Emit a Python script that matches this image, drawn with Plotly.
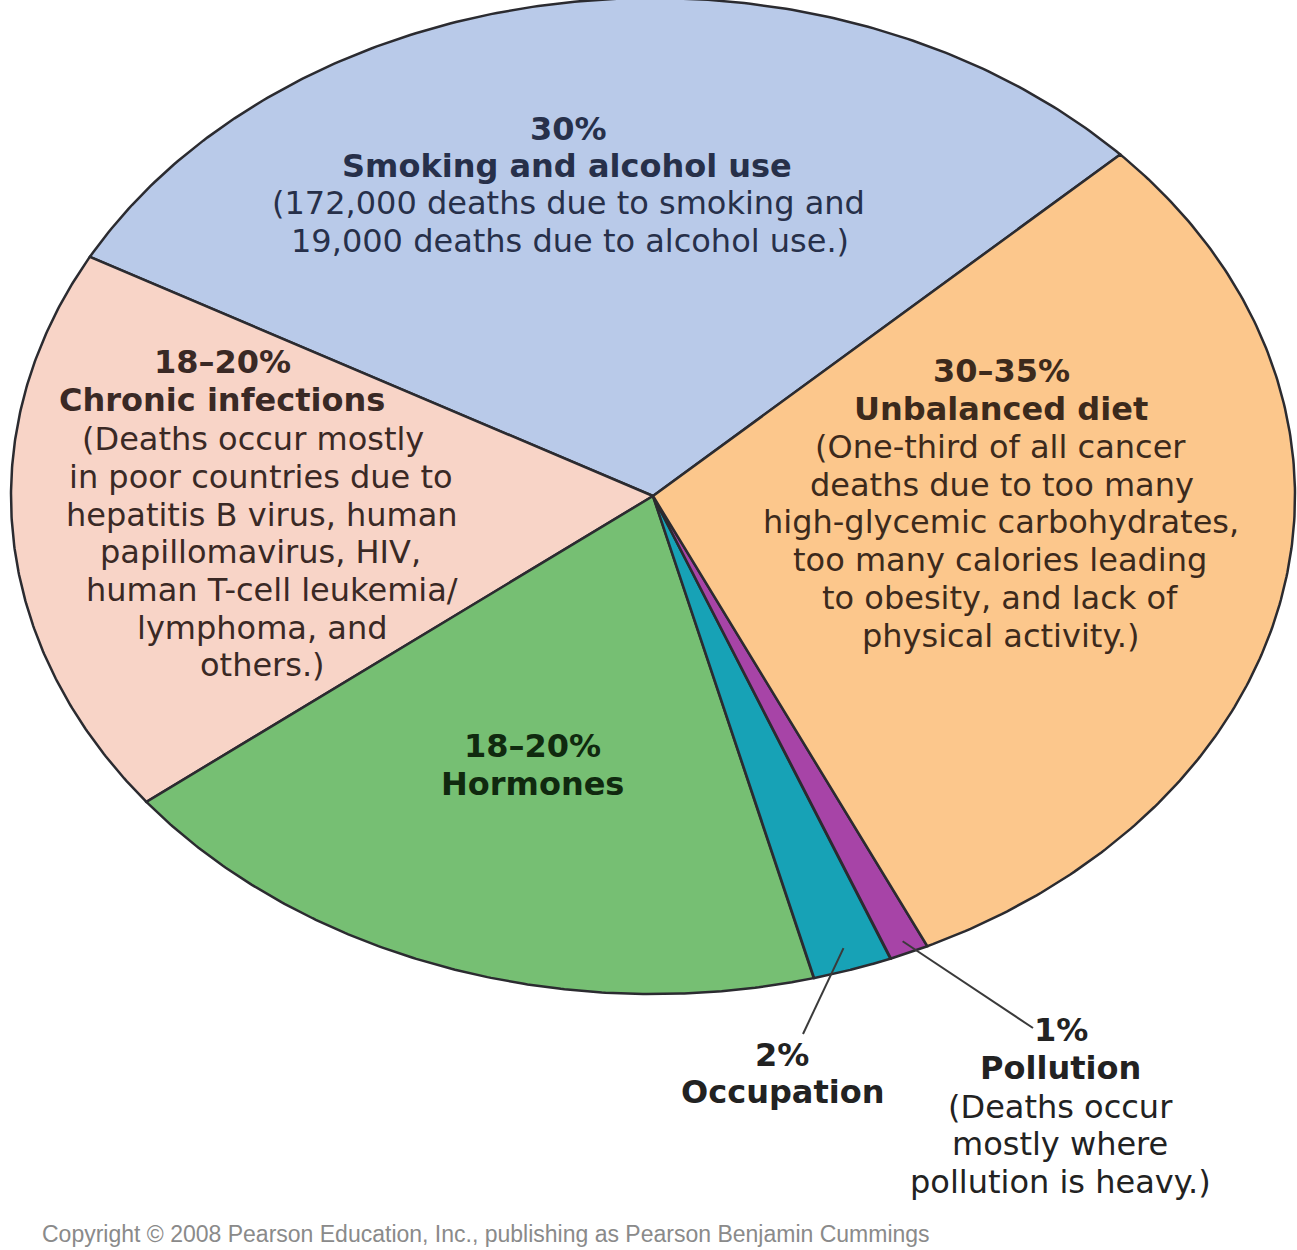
import numpy as np
import plotly.graph_objects as go

# ---------------- data ----------------
categories = ["Smoking and alcohol use", "Chronic infections", "Hormones",
              "Occupation", "Pollution", "Unbalanced diet"]
values = [30, 18.5, 18.5, 2, 1, 30]
colors = ["#b9cae9", "#f8d4c7", "#76bf73", "#17a2b6", "#a744a7", "#fcc78c"]

# label blocks
smoking_lines = ["30%", "Smoking and alcohol use",
                 "(172,000 deaths due to smoking and",
                 "19,000 deaths due to alcohol use.)"]
chronic_lines = ["18–20%", "Chronic infections", "(Deaths occur mostly",
                 "in poor countries due to", "hepatitis B virus, human",
                 "papillomavirus, HIV,", "human T-cell leukemia/",
                 "lymphoma, and", "others.)"]
diet_lines = ["30–35%", "Unbalanced diet", "(One-third of all cancer",
              "deaths due to too many", "high-glycemic carbohydrates,",
              "too many calories leading", "to obesity, and lack of",
              "physical activity.)"]
hormone_lines = ["18–20%", "Hormones"]
occupation_lines = ["2%", "Occupation"]
pollution_lines = ["1%", "Pollution", "(Deaths occur", "mostly where",
                   "pollution is heavy.)"]
copyright_text = "Copyright © 2008 Pearson Education, Inc., publishing as Pearson Benjamin Cummings"

# ---------------- geometry (layout) ----------------
W, H = 1297, 1250
cx, cy = 653, 496
ax_, by_ = 642, 498
start_deg = 43.3

fig = go.Figure()

total = float(sum(values))
cum = np.concatenate([[0], np.cumsum(values)])
mids = []
for i, (cat, v) in enumerate(zip(categories, values)):
    t0 = np.deg2rad(start_deg + 360 * cum[i] / total)
    t1 = np.deg2rad(start_deg + 360 * cum[i + 1] / total)
    mids.append((t0 + t1) / 2)
    t = np.linspace(t0, t1, 200)
    xs = np.concatenate([[cx], cx + ax_ * np.cos(t), [cx]])
    ys = np.concatenate([[cy], cy - by_ * np.sin(t), [cy]])
    fig.add_trace(go.Scatter(
        x=xs, y=ys, mode="lines", fill="toself", fillcolor=colors[i],
        line=dict(color="#2b2b30", width=2.5), name=cat, hoverinfo="name",
        showlegend=False))


def edge_point(theta, r):
    return cx + ax_ * r * np.cos(theta), cy - by_ * r * np.sin(theta)


ox0, oy0 = edge_point(mids[3], 0.955)
px0, py0 = edge_point(mids[4], 0.975)
fig.add_trace(go.Scatter(x=[ox0, 803], y=[oy0, 1034], mode="lines",
                         line=dict(color="#3a3a3a", width=2),
                         hoverinfo="skip", showlegend=False))
fig.add_trace(go.Scatter(x=[px0, 1033], y=[py0, 1028], mode="lines",
                         line=dict(color="#3a3a3a", width=2),
                         hoverinfo="skip", showlegend=False))

FONT = "DejaVu Sans"
annots = []


def block(lines, xs, ys, color, nbold, size=32):
    for j, line in enumerate(lines):
        annots.append(dict(
            x=xs[j], y=ys[j], xref="x", yref="y", text=line, showarrow=False,
            xanchor="center", yanchor="middle",
            font=dict(family=FONT, size=size, color=color,
                      weight="bold" if j < nbold else "normal")))


block(smoking_lines, [568, 567, 568, 570], [129, 166, 203, 241], "#27304a", 2)
block(chronic_lines, [222, 222, 253, 261, 262, 260, 272, 262, 262],
      [362, 400, 439, 477, 515, 552, 590, 628, 665], "#3a2925", 2)
block(diet_lines, [1001, 1001, 1000, 1002, 1001, 1000, 1000, 1000],
      [371, 409, 447, 485, 522, 560, 598, 636], "#3c2a1c", 2)
block(hormone_lines, [532, 532], [746, 784], "#10290f", 2)
block(occupation_lines, [782, 782], [1055, 1092], "#222222", 2)
block(pollution_lines, [1061, 1060, 1060, 1060, 1060],
      [1030, 1068, 1107, 1144, 1182], "#222222", 2)

annots.append(dict(x=40, y=1234, xref="x", yref="y", text=copyright_text,
                   showarrow=False, xanchor="left", yanchor="middle",
                   font=dict(family="Liberation Sans", size=23, color="#8a8a8a")))

fig.update_layout(
    width=W, height=H,
    margin=dict(l=0, r=0, t=0, b=0),
    paper_bgcolor="white", plot_bgcolor="white",
    xaxis=dict(range=[0, W], visible=False, fixedrange=True),
    yaxis=dict(range=[H, 0], visible=False, fixedrange=True),
    annotations=annots,
    showlegend=False,
)

fig.write_html("out.html")
